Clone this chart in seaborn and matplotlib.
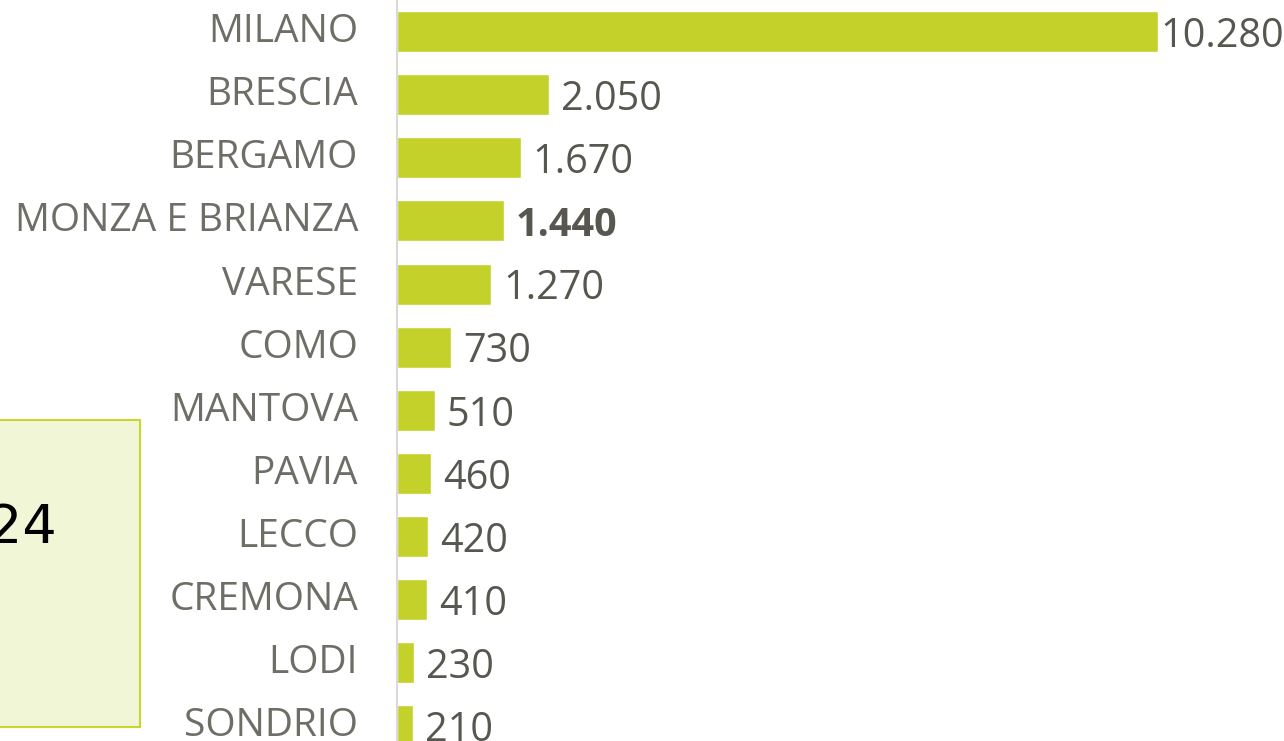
import matplotlib
matplotlib.use("Agg")
import matplotlib.pyplot as plt
from matplotlib.patches import Rectangle
from matplotlib.transforms import ScaledTranslation
import seaborn as sns
import pandas as pd

# Data
provinces = ["MILANO", "BRESCIA", "BERGAMO", "MONZA E BRIANZA", "VARESE", "COMO",
             "MANTOVA", "PAVIA", "LECCO", "CREMONA", "LODI", "SONDRIO"]
values = [10280, 2050, 1670, 1440, 1270, 730, 510, 460, 420, 410, 230, 210]
value_labels = ["10.280", "2.050", "1.670", "1.440", "1.270", "730",
                "510", "460", "420", "410", "230", "210"]
highlight = "MONZA E BRIANZA"
year_label = "2024"

BAR_COLOR = "#C3D12A"
LABEL_COLOR = "#6E6E66"
VALUE_COLOR = "#57574F"

df = pd.DataFrame({"provincia": provinces, "valore": values})

sns.set_style("white")
plt.rcParams["font.family"] = ["Open Sans", "DejaVu Sans"]

fig = plt.figure(figsize=(12.84, 7.41), dpi=100)
ax = fig.add_axes([397 / 1284, 0, 888 / 1284, 1])

sns.barplot(data=df, x="valore", y="provincia", orient="h",
            color=BAR_COLOR, saturation=1, width=0.65, ax=ax)

ax.set_xlim(0, 12000)
ax.set_ylim(11.24, -0.5)
ax.set_xlabel("")
ax.set_ylabel("")
ax.set_xticks([])
ax.tick_params(axis="y", length=0, pad=28, labelsize=28, labelcolor=LABEL_COLOR)
# province names sit a little above the bar centres
for lbl in ax.get_yticklabels():
    lbl.set_transform(lbl.get_transform() + ScaledTranslation(0, 0.04, fig.dpi_scale_trans))

for side in ["top", "right", "bottom"]:
    ax.spines[side].set_visible(False)
ax.spines["left"].set_color("#D9D9D9")
ax.spines["left"].set_linewidth(1.5)

# value labels next to each bar
vmax = max(values)
for i, (prov, val, lab) in enumerate(zip(provinces, values, value_labels)):
    pad = 3 if val == vmax else 12
    bold = prov == highlight
    ax.annotate(lab, xy=(val, i), xytext=(pad, -5), textcoords="offset pixels",
                ha="left", va="center", fontsize=28.5, color=VALUE_COLOR,
                fontweight="bold" if bold else "normal", annotation_clip=False)

# side box with the year, partly cut off at the left edge
fig.patches.append(Rectangle((-0.01, 1 - 727 / 741), 153 / 1284, 307 / 741,
                             transform=fig.transFigure, facecolor="#F1F6D6",
                             edgecolor="#C8D630", linewidth=1.5, zorder=0))
fig.text(57 / 1284, 1 - 528 / 741, year_label, ha="right", va="center",
         fontsize=39, color="black", family="DejaVu Sans")

fig.savefig("out.png", dpi=100)
